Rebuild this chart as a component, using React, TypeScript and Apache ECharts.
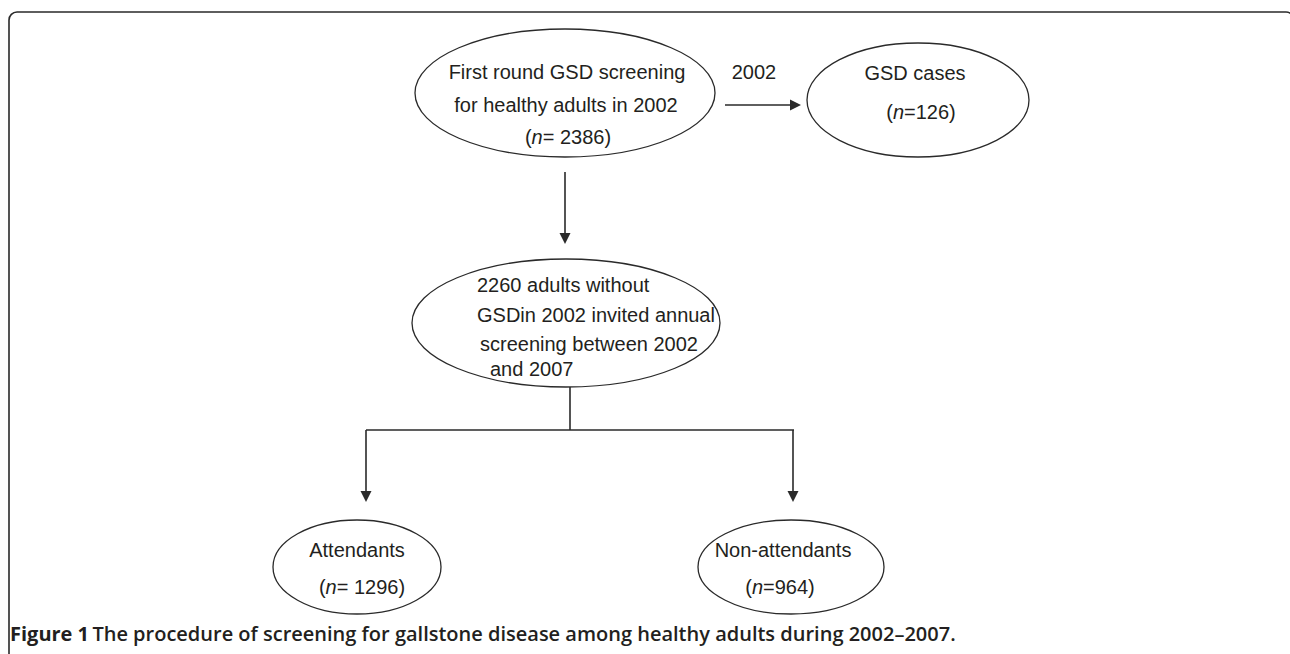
import React, { useEffect, useRef } from "react";
import * as echarts from "echarts";

// ---- content ----
const screeningLines = ["First round GSD screening", "for healthy adults in 2002"];
const screeningCount = "2386";
const casesTitle = "GSD cases";
const casesCount = "126";
const edgeYear = "2002";
const invitedLines = [
  "2260 adults without",
  "GSDin 2002 invited annual",
  "screening between 2002",
  "and 2007",
];
const attendantsTitle = "Attendants";
const attendantsCount = "1296";
const nonAttendantsTitle = "Non-attendants";
const nonAttendantsCount = "964";
const captionLead = "Figure 1";
const captionText =
  "The procedure of screening for gallstone disease among healthy adults during 2002\u20132007.";

const FONT = '"Liberation Sans", Arial, Helvetica, sans-serif';
const CAP_FONT = '"Open Sans", "Noto Sans", sans-serif';
const INK = "#231f20";
const LINE = "#2a2a2a";

const nText = (count: string, spaced: boolean) =>
  `{p|(}{i|n}{p|=${spaced ? " " : ""}${count})}`;

const richN = {
  p: { fontSize: 20, fontFamily: FONT, fill: INK },
  i: { fontSize: 20, fontFamily: FONT, fill: INK, fontStyle: "italic" },
};

const txt = (x: number, y: number, text: string, align = "center", rich?: any) => ({
  type: "text",
  x,
  y,
  z: 10,
  style: {
    text,
    fontSize: 20,
    fontFamily: FONT,
    fill: INK,
    align,
    verticalAlign: "middle",
    ...(rich ? { rich } : {}),
  },
});

const ellipse = (cx: number, cy: number, rx: number, ry: number) => ({
  type: "ellipse",
  shape: { cx, cy, rx, ry },
  style: { fill: "#fff", stroke: LINE, lineWidth: 1.3 },
});

const line = (x1: number, y1: number, x2: number, y2: number) => ({
  type: "line",
  shape: { x1, y1, x2, y2 },
  style: { stroke: LINE, lineWidth: 1.6 },
});

const arrowDown = (x: number, tipY: number) => ({
  type: "polygon",
  shape: { points: [[x - 5.5, tipY - 11], [x + 5.5, tipY - 11], [x, tipY]] },
  style: { fill: LINE },
});

const arrowRight = (tipX: number, y: number) => ({
  type: "polygon",
  shape: { points: [[tipX - 11, y - 5.5], [tipX - 11, y + 5.5], [tipX, y]] },
  style: { fill: LINE },
});

export default function App() {
  const ref = useRef<HTMLDivElement>(null);
  useEffect(() => {
    if (!ref.current) return;
    const chart = echarts.init(ref.current, undefined, { renderer: "svg" });
    const elements: any[] = [
      {
        type: "rect",
        shape: { x: 9, y: 12, width: 1285, height: 720, r: 8 },
        style: { fill: "none", stroke: LINE, lineWidth: 1.6 },
      },
      // top node
      ellipse(565, 93, 150, 64),
      txt(567, 72, screeningLines[0]),
      txt(566, 105, screeningLines[1]),
      txt(568, 137, nText(screeningCount, true), "center", richN),
      // edge to GSD cases
      line(725, 105, 792, 105),
      arrowRight(801, 105),
      txt(754, 72, edgeYear),
      ellipse(918, 100, 111, 57),
      txt(915, 73, casesTitle),
      txt(921, 112, nText(casesCount, false), "center", richN),
      // down to invited
      line(565, 172, 565, 235),
      arrowDown(565, 244),
      ellipse(566, 323, 154, 64),
      txt(477, 285, invitedLines[0], "left"),
      txt(477, 315, invitedLines[1], "left"),
      txt(480, 344, invitedLines[2], "left"),
      txt(490, 369, invitedLines[3], "left"),
      // branch
      line(570, 387, 570, 430),
      line(366, 430, 794, 430),
      line(366, 430, 366, 493),
      line(793, 430, 793, 493),
      arrowDown(366, 502),
      arrowDown(793, 502),
      ellipse(357, 567, 84, 47),
      txt(357, 550, attendantsTitle),
      txt(362, 587, nText(attendantsCount, true), "center", richN),
      ellipse(791, 567, 93, 47),
      txt(783, 550, nonAttendantsTitle),
      txt(780, 587, nText(nonAttendantsCount, false), "center", richN),
      // caption
      {
        type: "text",
        x: 10,
        y: 633,
        style: {
          text: `{b|${captionLead}} {s|${captionText}}`,
          align: "left",
          verticalAlign: "middle",
          rich: {
            b: { fontSize: 20, fontFamily: CAP_FONT, fontWeight: 700, fill: INK },
            s: { fontSize: 20, fontFamily: CAP_FONT, fontWeight: 600, fill: INK },
          },
        },
      },
    ];
    chart.setOption({ animation: false, graphic: { elements } });
    return () => chart.dispose();
  }, []);
  return (
    <div
      ref={ref}
      style={{ position: "fixed", left: 0, top: 0, width: 1290, height: 654, background: "#fff" }}
    />
  );
}
